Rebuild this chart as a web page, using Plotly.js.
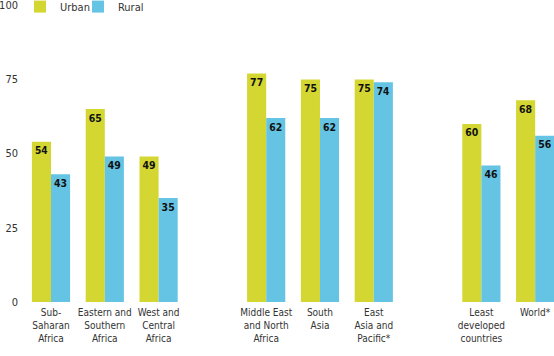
<!DOCTYPE html>
<html>
<head>
<meta charset="utf-8">
<script src="https://cdn.plot.ly/plotly-3.0.1.min.js"></script>
<style>html,body{margin:0;padding:0;background:#fff;}#chart{width:554px;height:356px;}</style>
</head>
<body>
<div id="chart"></div>
<script>
const categories = [
  "Sub-<br>Saharan<br>Africa",
  "Eastern and<br>Southern<br>Africa",
  "West and<br>Central<br>Africa",
  "Middle East<br>and North<br>Africa",
  "South<br>Asia",
  "East<br>Asia and<br>Pacific*",
  "Least<br>developed<br>countries",
  "World*"
];
const positions = [0, 1, 2, 4, 5, 6, 8, 9];
const urban = [54, 65, 49, 77, 75, 75, 60, 68];
const rural = [43, 49, 35, 62, 62, 74, 46, 56];
const yTicks = [0, 25, 50, 75, 100];

const FONT = "'DejaVu Sans Condensed', 'Liberation Sans Narrow', sans-serif";
const labelFont = {family: FONT, size: 12, color: "#111", weight: 700};
const legendFont = {family: FONT, size: 11, color: "#333"};

const data = [
  {type: "bar", name: "Urban", x: positions, y: urban, marker: {color: "#d4d732"},
   text: urban.map(String), textposition: "inside", insidetextanchor: "end", textangle: 0,
   textfont: labelFont, hoverinfo: "none", legend: "legend"},
  {type: "bar", name: "Rural", x: positions, y: rural, marker: {color: "#65c4e3"},
   text: rural.map(String), textposition: "inside", insidetextanchor: "end", textangle: 0,
   textfont: labelFont, hoverinfo: "none", legend: "legend2"}
];

const layout = {
  width: 554, height: 356,
  margin: {l: 28, r: 0, t: 4, b: 54, autoexpand: false},
  paper_bgcolor: "#fff", plot_bgcolor: "#fff",
  barmode: "group", bargap: 0.29, bargroupgap: 0,
  showlegend: true,
  legend: {orientation: "h", x: -0.0152, xanchor: "left", y: 1.04, yref: "paper", yanchor: "top",
           font: legendFont, itemwidth: 30, bgcolor: "rgba(0,0,0,0)"},
  legend2: {orientation: "h", x: 0.095, xanchor: "left", y: 1.04, yref: "paper", yanchor: "top",
           font: legendFont, itemwidth: 30, bgcolor: "rgba(0,0,0,0)"},
  font: {family: FONT, size: 10, color: "#333"},
  xaxis: {type: "linear", range: [-0.4275, 9.35], tickvals: positions, ticktext: categories,
          tickangle: 0, showgrid: false, zeroline: false, showline: false, ticks: "", ticklabelstandoff: 3,
          tickfont: {family: FONT, size: 10, color: "#333"}},
  yaxis: {range: [0, 100.4], tickvals: yTicks, ticktext: yTicks.map(String), ticklabeloverflow: "allow",
          showgrid: false, zeroline: false, showline: false, ticks: "", ticklabelstandoff: 9,
          tickfont: {family: FONT, size: 11, color: "#333"}}
};

Plotly.newPlot("chart", data, layout, {staticPlot: true, displayModeBar: false});
</script>
</body>
</html>
